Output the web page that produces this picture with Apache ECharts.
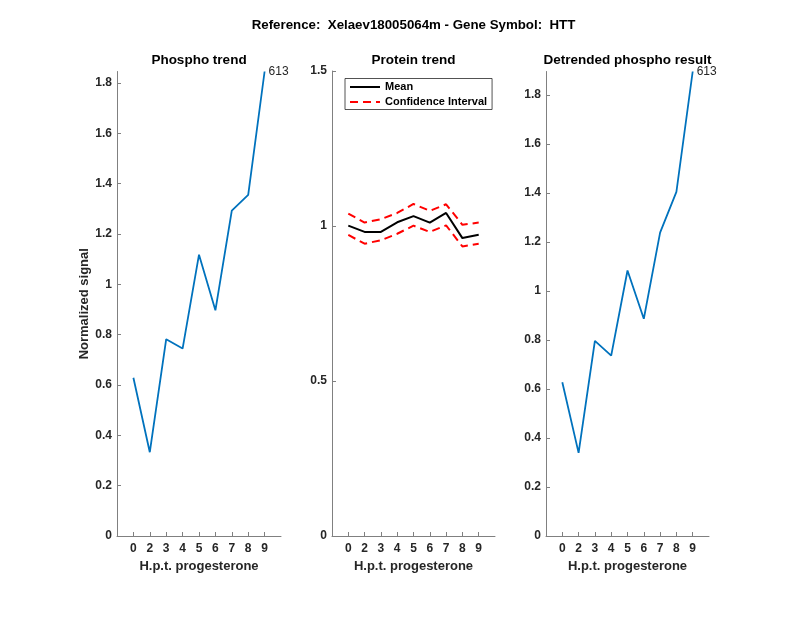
<!DOCTYPE html>
<html>
<head>
<meta charset="utf-8">
<script src="https://cdn.jsdelivr.net/npm/echarts@6/dist/echarts.min.js"></script>
<style>html,body{margin:0;padding:0;background:#fff}#c{width:800px;height:618px}</style>
</head>
<body>
<div id="c"></div>
<script>
// ---- data ----
var hourLabels = ['0', '2', '3', '4', '5', '6', '7', '8', '9'];
var phosphoTrend = [0.629, 0.333, 0.782, 0.745, 1.118, 0.897, 1.293, 1.356, 1.846];
var proteinMean = [1.001, 0.981, 0.981, 1.012, 1.032, 1.011, 1.042, 0.961, 0.972];
var proteinUpper = [1.040, 1.011, 1.022, 1.042, 1.071, 1.049, 1.070, 1.004, 1.011];
var proteinLower = [0.971, 0.943, 0.954, 0.975, 1.001, 0.981, 1.002, 0.934, 0.943];
var detrended = [0.627, 0.339, 0.796, 0.736, 1.083, 0.886, 1.238, 1.404, 1.895];
var yTicksPhospho = [0, 0.2, 0.4, 0.6, 0.8, 1, 1.2, 1.4, 1.6, 1.8];
var yTicksProtein = [0, 0.5, 1, 1.5];
var yTicksDetrended = [0, 0.2, 0.4, 0.6, 0.8, 1, 1.2, 1.4, 1.6, 1.8];
var peptideLabel = '613';
var mainTitle = 'Reference:  Xelaev18005064m - Gene Symbol:  HTT';
var panelTitles = ['Phospho trend', 'Protein trend', 'Detrended phospho result'];

// ---- build ----
var FONT = '"Liberation Sans", Arial, Helvetica, sans-serif';
var TXT = '#262626';
var AX = '#808080';
var xPos = hourLabels.map(function (_, i) { return i + 1; });

function pts(arr) {
  return arr.map(function (v, i) { return [xPos[i], v]; });
}

function xAxis(idx) {
  return {
    type: 'value', gridIndex: idx, min: 0, max: 10,
    name: 'H.p.t. progesterone', nameLocation: 'middle', nameGap: 22,
    nameTextStyle: { color: TXT, fontFamily: FONT, fontSize: 13, fontWeight: 'bold' },
    axisLine: { show: true, lineStyle: { color: AX, width: 1 } },
    axisTick: { show: true, inside: true, length: 4, customValues: xPos, lineStyle: { color: AX } },
    axisLabel: {
      customValues: xPos, margin: 7, color: TXT, fontFamily: FONT, fontSize: 12, fontWeight: 'bold',
      formatter: function (v) { return hourLabels[Math.round(v) - 1]; }
    },
    splitLine: { show: false }
  };
}

function yAxis(idx, ticks, max, name) {
  var a = {
    type: 'value', gridIndex: idx, min: 0, max: max,
    axisLine: { show: true, lineStyle: { color: AX, width: 1 } },
    axisTick: { show: true, inside: true, length: 4, customValues: ticks, lineStyle: { color: AX } },
    axisLabel: {
      customValues: ticks, margin: 5, color: TXT, fontFamily: FONT, fontSize: 12, fontWeight: 'bold',
      formatter: function (v) { return String(v); }
    },
    splitLine: { show: false }
  };
  if (name) {
    a.name = name; a.nameLocation = 'middle'; a.nameGap = 21;
    a.nameTextStyle = { color: TXT, fontFamily: FONT, fontSize: 13, fontWeight: 'bold' };
  }
  return a;
}

var endLbl = {
  show: true, formatter: peptideLabel, distance: 4,
  color: TXT, fontFamily: FONT, fontSize: 12, fontWeight: 'normal'
};

var titleStyle = { color: '#000', fontFamily: FONT, fontSize: 13.5, fontWeight: 'bold' };
var grids = [
  { left: 117, top: 71.5, width: 164, height: 464.5 },
  { left: 332, top: 71, width: 163, height: 465 },
  { left: 546, top: 71.5, width: 163, height: 464.5 }
];

var option = {
  backgroundColor: '#fff',
  animation: false,
  title: [
    { text: mainTitle, left: 413.5, top: 18.5, textAlign: 'center', padding: 0,
      textStyle: { color: '#000', fontFamily: FONT, fontSize: 13.3, fontWeight: 'bold' } },
    { text: panelTitles[0], left: 199, top: 53.5, textAlign: 'center', padding: 0, textStyle: titleStyle },
    { text: panelTitles[1], left: 413.5, top: 53.5, textAlign: 'center', padding: 0, textStyle: titleStyle },
    { text: panelTitles[2], left: 627.5, top: 53.5, textAlign: 'center', padding: 0, textStyle: titleStyle }
  ],
  legend: {
    data: ['Mean', 'Confidence Interval'],
    orient: 'vertical', left: 345, top: 78.5,
    itemWidth: 30, itemHeight: 12, itemGap: 4, itemTextGap: 4,
    padding: [3, 5, 2, 4],
    backgroundColor: '#fff', borderColor: '#262626', borderWidth: 0.8, borderRadius: 0,
    selectedMode: false,
    itemStyle: { opacity: 0 },
    textStyle: { color: '#000', fontFamily: FONT, fontSize: 11, fontWeight: 'bold' }
  },
  grid: grids,
  xAxis: [xAxis(0), xAxis(1), xAxis(2)],
  yAxis: [
    yAxis(0, yTicksPhospho, Math.max.apply(null, phosphoTrend), 'Normalized signal'),
    yAxis(1, yTicksProtein, 1.5),
    yAxis(2, yTicksDetrended, Math.max.apply(null, detrended))
  ],
  series: [
    { type: 'line', name: 'Phospho', xAxisIndex: 0, yAxisIndex: 0, data: pts(phosphoTrend),
      symbol: 'none', lineStyle: { color: '#0072BD', width: 1.8 }, itemStyle: { color: '#0072BD' },
      endLabel: endLbl },
    { type: 'line', name: 'Mean', xAxisIndex: 1, yAxisIndex: 1, data: pts(proteinMean),
      symbol: 'none', lineStyle: { color: '#000', width: 2 }, itemStyle: { color: '#000' } },
    { type: 'line', name: 'Confidence Interval', xAxisIndex: 1, yAxisIndex: 1, data: pts(proteinUpper),
      symbol: 'none', lineStyle: { color: '#FF0000', width: 2, type: [8, 5] }, itemStyle: { color: '#FF0000' } },
    { type: 'line', name: 'Confidence Interval', xAxisIndex: 1, yAxisIndex: 1, data: pts(proteinLower),
      symbol: 'none', lineStyle: { color: '#FF0000', width: 2, type: [8, 5] }, itemStyle: { color: '#FF0000' } },
    { type: 'line', name: 'Detrended', xAxisIndex: 2, yAxisIndex: 2, data: pts(detrended),
      symbol: 'none', lineStyle: { color: '#0072BD', width: 1.8 }, itemStyle: { color: '#0072BD' },
      endLabel: endLbl }
  ]
};

var chart = echarts.init(document.getElementById('c'), null, { renderer: 'canvas' });
chart.setOption(option);
</script>
</body>
</html>
